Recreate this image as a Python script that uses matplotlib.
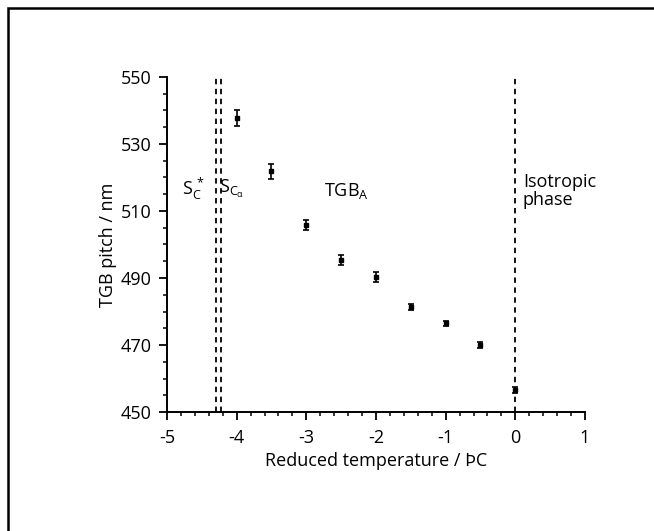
import matplotlib
matplotlib.use('Agg')
import matplotlib.pyplot as plt
from matplotlib.patches import Rectangle
from matplotlib.ticker import MultipleLocator

plt.rcParams['font.family'] = ['Open Sans', 'DejaVu Sans']
plt.rcParams['mathtext.fontset'] = 'custom'
plt.rcParams['mathtext.rm'] = 'Open Sans'
plt.rcParams['mathtext.it'] = 'Open Sans'
plt.rcParams['axes.unicode_minus'] = False

# reduced temperature (°C) and TGB pitch (nm)
temp = [-4.0, -3.5, -3.0, -2.5, -2.0, -1.5, -1.0, -0.5, 0.0]
pitch = [537.8, 521.9, 505.8, 495.4, 490.4, 481.3, 476.5, 470.0, 456.6]
pitch_err = [2.3, 2.2, 1.5, 1.5, 1.5, 1.0, 0.8, 0.8, 1.0]

# phase boundaries
boundaries = [-4.3, -4.22, 0.0]

xticks = [-5, -4, -3, -2, -1, 0, 1]
yticks = [450, 470, 490, 510, 530, 550]

fig = plt.figure(figsize=(6.54, 5.31), dpi=100)
ax = fig.add_axes([0.2553, 0.2241, 0.6392, 0.6309])

# outer frame (clipped at right and bottom like the scan)
fig.patches.append(Rectangle((8 / 654, -0.2), 1.2, 1.2 - 8 / 531,
                             transform=fig.transFigure, fill=False,
                             edgecolor='black', linewidth=1.8))

for b in boundaries:
    ax.axvline(b, color='black', linestyle=(0, (3, 2.5)), linewidth=1.3)

ax.errorbar(temp, pitch, yerr=pitch_err, fmt='s', color='black',
            markersize=3.5, capsize=2.5, elinewidth=1.2, capthick=1.2)

ax.set_xlim(-5, 1)
ax.set_ylim(450, 550)
ax.set_xticks(xticks)
ax.set_yticks(yticks)
ax.xaxis.set_minor_locator(MultipleLocator(0.2))
ax.yaxis.set_minor_locator(MultipleLocator(5))
ax.tick_params(which='major', length=6, width=1.3, labelsize=13)
ax.tick_params(which='minor', length=3, width=1.1)
ax.tick_params(axis='x', pad=6)
ax.tick_params(axis='y', pad=5)

for side in ['top', 'right']:
    ax.spines[side].set_visible(False)
for side in ['left', 'bottom']:
    ax.spines[side].set_linewidth(1.4)

ax.set_xlabel('Reduced temperature / ÞC', fontsize=13, labelpad=4)
ax.set_ylabel('TGB pitch / nm', fontsize=13, labelpad=3)

ax.text(-4.78, 516.5, r'S$_C^{\,*}$', fontsize=13, va='center', ha='left')
ax.text(-4.26, 516.5, r'S$_{C_\alpha}$', fontsize=13, va='center', ha='left')
ax.text(-2.75, 516, r'TGB$_A$', fontsize=13, va='center', ha='left')
ax.text(0.11, 516, 'Isotropic\nphase', fontsize=13, va='center', ha='left',
        linespacing=1.0)

fig.savefig('out.png', dpi=100)
